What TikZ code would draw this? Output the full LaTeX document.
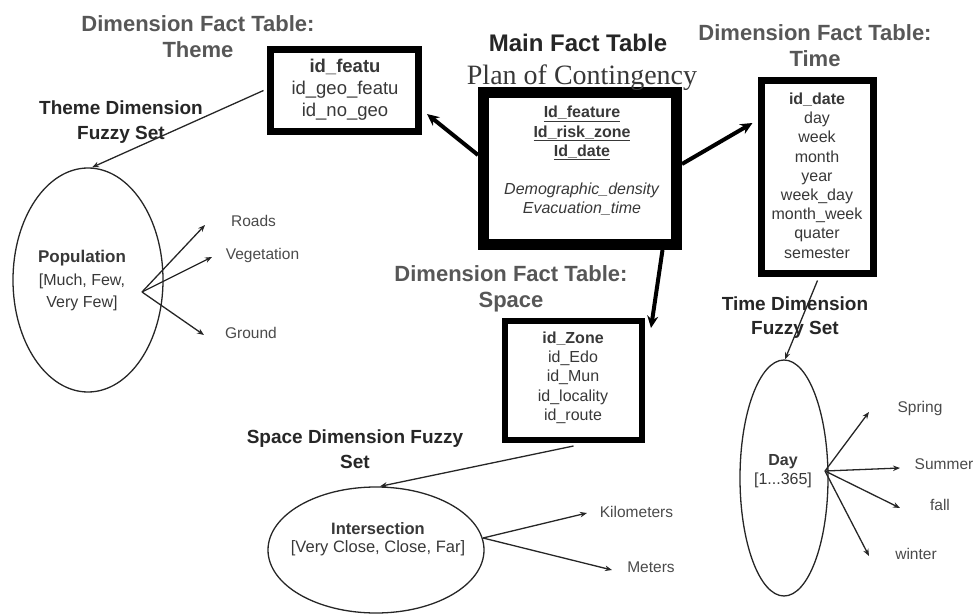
\documentclass[tikz,border=0pt]{standalone}
\usepackage{fontspec}
\setmainfont{Liberation Sans}
\newfontfamily\timesf{Liberation Serif}
\usetikzlibrary{arrows.meta,shapes.geometric}
\definecolor{cTitle}{HTML}{575757}
\definecolor{cDark}{HTML}{262626}
\definecolor{cText}{HTML}{383838}
\definecolor{cLeaf}{HTML}{4A4A4A}
\begin{document}
\begin{tikzpicture}[x=1pt,y=-1pt,
  tablebox/.style={draw=black, inner sep=0pt, fill=none},
  dimtitle/.style={font=\fontsize{22}{26}\selectfont\bfseries, text=cTitle, align=center, inner sep=0pt},
  fuzzlabel/.style={font=\fontsize{19}{24.5}\selectfont\bfseries, text=cDark, align=center, inner sep=0pt},
  boxtext/.style={text=cText, align=center, inner sep=0pt},
  fuzzyset/.style={draw=cDark, ellipse, line width=1.3pt, inner sep=0pt},
  leaf/.style={font=\fontsize{15.5}{18}\selectfont, text=cLeaf, inner sep=0pt},
  thinarrow/.style={draw=cDark, line width=1.3pt, -{Stealth[length=7pt,width=5.5pt]}},
  bigarrow/.style={draw=black, line width=4pt, -{Stealth[length=12pt,width=11pt]}}
]
\useasboundingbox (0,0) rectangle (980,615);

% ---------- tables ----------
\node[tablebox, line width=11pt, minimum width=193pt, minimum height=152pt] (main) at (580,168.5) {};
\node[tablebox, line width=7pt, minimum width=148pt, minimum height=82pt] (theme) at (344.5,90.5) {};
\node[tablebox, line width=7pt, minimum width=112pt, minimum height=193pt] (time) at (817.5,177) {};
\node[tablebox, line width=6pt, minimum width=137pt, minimum height=119pt] (space) at (573.5,380.5) {};

% table contents
\node[boxtext, font=\fontsize{18.5}{22}\selectfont] (themeTxt) at (345,90)
  {\textbf{id\_featu}\\id\_geo\_featu\\id\_no\_geo};
\node[boxtext, font=\fontsize{16}{19.2}\selectfont] (mainTxt) at (582,161)
  {\textbf{\underline{Id\_feature}}\\\textbf{\underline{Id\_risk\_zone}}\\\textbf{\underline{Id\_date}}\\[19.2pt]
   \textit{Demographic\_density}\\\textit{Evacuation\_time}};
\node[boxtext, font=\fontsize{16}{19.2}\selectfont] (timeTxt) at (817,175.5)
  {\textbf{id\_date}\\day\\week\\month\\year\\week\_day\\month\_week\\quater\\semester};
\node[boxtext, font=\fontsize{16}{19.3}\selectfont] (spaceTxt) at (573,377.5)
  {\textbf{id\_Zone}\\id\_Edo\\id\_Mun\\id\_locality\\id\_route};

% titles
\node[dimtitle] (tTheme) at (198,37) {Dimension Fact Table:\\Theme};
\node[dimtitle] (tTime) at (815,45.5) {Dimension Fact Table:\\Time};
\node[dimtitle] (tSpace) at (511,288.5) {Dimension Fact Table:\\Space};
\node[font=\fontsize{24}{28}\selectfont\bfseries, text=cDark, inner sep=0pt] (tMain) at (578,43) {Main Fact Table};
\node[font=\timesf\fontsize{28}{32}\selectfont, text=cText, inner sep=0pt] (tPlan) at (582,78) {Plan of Contingency};

% fuzzy set labels
\node[fuzzlabel] (fTheme) at (121,122) {Theme Dimension\\Fuzzy Set};
\node[fuzzlabel] (fSpace) at (355,449) {Space Dimension Fuzzy\\Set};
\node[fuzzlabel] (fTime) at (795,317.5) {Time Dimension\\Fuzzy Set};

% ---------- fuzzy sets ----------
\node[fuzzyset, minimum width=150pt, minimum height=224pt] (themeSet) at (88,280) {};
\node[fuzzyset, minimum width=216pt, minimum height=126pt] (spaceSet) at (376,550) {};
\node[fuzzyset, minimum width=88pt, minimum height=236pt] (timeSet) at (784,478) {};

\node[boxtext, font=\fontsize{16}{22.5}\selectfont] (themeSetTxt) at (82,280.5)
  {{\fontsize{17}{22.5}\selectfont\textbf{Population}}\\{}[Much, Few,\\Very Few]};
\node[boxtext, font=\fontsize{16.5}{18.5}\selectfont] (spaceSetTxt) at (378,539)
  {\textbf{Intersection}\\{}[Very Close, Close, Far]};
\node[boxtext, font=\fontsize{16}{18.5}\selectfont] (timeSetTxt) at (783,471)
  {\textbf{Day}\\{}[1...365]};

% leaves
\node[leaf] (roads) at (253.5,221) {Roads};
\node[leaf] (veg) at (262.5,255) {Vegetation};
\node[leaf] (ground) at (251,333) {Ground};
\node[leaf] (km) at (636.5,512) {Kilometers};
\node[leaf] (meters) at (651,567) {Meters};
\node[leaf] (spring) at (920,408) {Spring};
\node[leaf] (summer) at (944,464) {Summer};
\node[leaf] (fall) at (940,505) {fall};
\node[leaf] (winter) at (916,554) {winter};

% fan origins and arrow ends
\coordinate (themeFan) at (142,292);
\coordinate (spaceFan) at (483,538);
\coordinate (timeFan) at (825,471);
\coordinate (roadsEnd) at (205,225);
\coordinate (vegEnd) at (212,257);
\coordinate (groundEnd) at (204,335);
\coordinate (kmEnd) at (587,513);
\coordinate (metersEnd) at (612,570);
\coordinate (springEnd) at (869,412);
\coordinate (summerEnd) at (900,468);
\coordinate (fallEnd) at (900,508);
\coordinate (winterEnd) at (869,556);

% ---------- connectors ----------
\draw[bigarrow] ([yshift=13.5pt]main.west) -- ([xshift=5pt,yshift=-23.5pt]theme.east);
\draw[bigarrow] ([yshift=4.5pt]main.east) -- ([xshift=-5.5pt,yshift=54pt]time.west);
\draw[bigarrow] ([xshift=-19.5pt]main.south east) -- ([xshift=6pt,yshift=-10pt]space.north east);

\draw[thinarrow] ([xshift=-3.5pt]theme.west) -- ([xshift=4pt]themeSet.north);
\draw[thinarrow] ([yshift=-3pt]space.south) -- ([xshift=4pt]spaceSet.north);
\draw[thinarrow] ([yshift=-3.5pt]time.south) -- ([xshift=1pt]timeSet.north);

\foreach \e in {roadsEnd,vegEnd,groundEnd} \draw[thinarrow] (themeFan) -- (\e);
\foreach \e in {kmEnd,metersEnd} \draw[thinarrow] (spaceFan) -- (\e);
\foreach \e in {springEnd,summerEnd,fallEnd,winterEnd} \draw[thinarrow] (timeFan) -- (\e);
\end{tikzpicture}
\end{document}
